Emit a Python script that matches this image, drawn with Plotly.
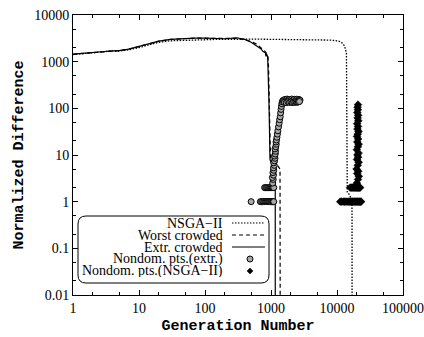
import plotly.graph_objects as go

# ---------------- data ----------------
nsga_gen = [1, 1.5, 2, 3, 4, 5, 7, 10, 15, 20, 30, 50, 70, 100, 150, 200, 300, 500, 700,
            1000, 1500, 2000, 3000, 5000, 7000, 8000, 10000, 11000, 12000, 12800, 13300,
            13700, 13900, 14000, 14100, 14200, 14300, 15000, 16000, 16800, 16900, 16950]
nsga_val = [1420, 1480, 1560, 1640, 1700, 1680, 1800, 2000, 2350, 2600, 2800, 2900, 2950,
            2950, 3000, 2980, 3020, 3050, 3030, 3080, 3060, 3050, 3020, 3000, 2950, 2900,
            2800, 2700, 2500, 2250, 1950, 1750, 1500, 300, 20, 3, 1.6, 1.5, 1.3, 1.1, 0.5, 0.0001]

worst_gen = [1, 1.5, 2, 3, 4, 5, 7, 10, 15, 20, 30, 50, 70, 100, 150, 200, 300, 400, 500,
             600, 700, 800, 870, 900, 920, 940, 960, 980, 1100, 1250, 1370, 1380, 1382]
worst_val = [1440, 1500, 1570, 1650, 1710, 1730, 1860, 2100, 2450, 2750, 3000, 3150, 3200,
             3180, 3150, 3100, 3150, 2950, 2700, 2400, 2000, 1700, 1450, 1300, 700, 150,
             30, 9, 7, 6, 5, 2, 0.0001]

extr_gen = [1, 1.5, 2, 3, 4, 5, 7, 10, 15, 20, 30, 50, 70, 100, 150, 200, 300, 400, 500,
            600, 700, 760, 820, 840, 850, 890, 910, 930, 950, 966, 1050, 1150, 1160, 1162]
extr_val = [1450, 1500, 1570, 1650, 1700, 1720, 1850, 2100, 2450, 2750, 3000, 3150, 3200,
            3180, 3150, 3100, 3250, 3000, 2600, 2200, 1900, 1650, 1550, 1300, 1500, 1280,
            600, 150, 30, 8, 6, 5, 3, 0.0001]

ext_pts_gen = [500, 690, 720, 750, 780, 810, 840, 870, 900, 930, 960, 990, 1020, 1050, 1080, 1100,
               800, 830, 860, 890, 920, 950, 980, 1010, 1040, 1070, 1100,
               1060, 1080, 1050, 1090, 1070, 1100, 1090, 1120, 1100, 1130, 1150, 1130, 1160,
               1170, 1150, 1180, 1200, 1190, 1210, 1230, 1250, 1270, 1300, 1330, 1350, 1380,
               1400, 1420, 1440, 1460, 1480, 1520,
               1560, 1620, 1680, 1750, 1820, 1900, 1980, 2060, 2150, 2250, 2350, 2450, 2550, 2650, 2750,
               1600, 1700, 1800, 1900, 2000, 2100, 2200, 2300, 2400, 2500, 2600, 2700]
ext_pts_val = [1, 1, 1, 1, 1, 1, 1, 1, 1, 1, 1, 1, 1, 1, 1, 1,
               2, 2, 2, 2, 2, 2, 2, 2, 2, 2, 2,
               2.5, 3, 3.3, 3.7, 4.2, 4.7, 5.3, 6, 6.8, 7.5, 8.5, 9.5, 10.5,
               12, 13.5, 15, 17, 19, 21, 24, 28, 33, 40, 48, 57, 66,
               80, 95, 110, 125, 138, 148,
               150, 155, 148, 158, 150, 155, 147, 158, 150, 156, 148, 157, 150, 155, 150,
               135, 132, 138, 134, 137, 133, 136, 134, 138, 135, 137, 140]

nsga_pts_gen = [11200, 11800, 12400, 13000, 13600, 14200, 14800, 15400, 16000, 16600, 17200,
                17800, 18400, 19000, 19600, 20200, 20800, 21400, 22000, 22600, 23200,
                15800, 16400, 17000, 17600, 18200, 18800, 19400, 20000, 20600, 21200, 21800, 22400,
                20000, 20800, 21400, 20200, 21000, 19800, 20600, 21300, 20100, 20900, 20400,
                21200, 20000, 20700, 21300, 20300, 20900, 20100, 20600, 21200, 20400, 20800,
                20200, 21000, 20500, 20900, 20300, 20700, 20500, 20800]
nsga_pts_val = [1, 1, 1, 1, 1, 1, 1, 1, 1, 1, 1, 1, 1, 1, 1, 1, 1, 1, 1, 1, 1,
                2, 2, 2, 2, 2, 2, 2, 2, 2, 2, 2, 2,
                2.5, 3, 3.5, 4, 4.5, 5, 6, 7, 8, 9, 10, 11, 13, 15, 17, 19, 22, 25, 28,
                32, 36, 41, 47, 54, 62, 71, 81, 93, 106, 120, 150]

x_ticks = [1, 10, 100, 1000, 10000, 100000]
x_labels = ["1", "10", "100", "1000", "10000", "100000"]
y_ticks = [0.01, 0.1, 1, 10, 100, 1000, 10000]
y_labels = ["0.01", "0.1", "1", "10", "100", "1000", "10000"]

legend_names = ["NSGA\u2212II", "Worst crowded", "Extr. crowded",
                "Nondom. pts.(extr.)", "Nondom. pts.(NSGA\u2212II)"]

# ---------------- figure ----------------
W, H = 424, 337
L, R, T, B = 73, 21, 15, 42
PW, PH = W - L - R, H - T - B

fig = go.Figure()
fig.add_trace(go.Scatter(x=nsga_gen, y=nsga_val, mode="lines",
                         line=dict(color="black", width=1.3, dash="1.5px,1.5px")))
fig.add_trace(go.Scatter(x=worst_gen, y=worst_val, mode="lines",
                         line=dict(color="black", width=1.2, dash="4px,3px")))
fig.add_trace(go.Scatter(x=extr_gen, y=extr_val, mode="lines",
                         line=dict(color="black", width=1.2)))
fig.add_trace(go.Scatter(x=ext_pts_gen, y=ext_pts_val, mode="markers",
                         marker=dict(symbol="circle", size=6, color="#a8a8a8",
                                     line=dict(color="black", width=1))))
fig.add_trace(go.Scatter(x=nsga_pts_gen, y=nsga_pts_val, mode="markers",
                         marker=dict(symbol="diamond", size=6, color="black",
                                     line=dict(color="black", width=0.5))))

def px2paper(px, py):
    return (px - L) / PW, (H - B - py) / PH

shapes = []
annotations = []

# legend box with rounded corners
bx0, by0, bx1, by1, r = 78, 216, 269, 283, 8
rx, ry = r / PW, r / PH
x0, y1p = px2paper(bx0, by0)
x1, y0p = px2paper(bx1, by1)
path = (f"M {x0+rx},{y1p} L {x1-rx},{y1p} Q {x1},{y1p} {x1},{y1p-ry} "
        f"L {x1},{y0p+ry} Q {x1},{y0p} {x1-rx},{y0p} L {x0+rx},{y0p} "
        f"Q {x0},{y0p} {x0},{y0p+ry} L {x0},{y1p-ry} Q {x0},{y1p} {x0+rx},{y1p} Z")
shapes.append(dict(type="path", xref="paper", yref="paper", path=path,
                   line=dict(color="black", width=1), fillcolor="white", layer="above"))

rows = [223, 235, 247, 259, 271]
text_right = 224
sx0, sx1, smid = 232, 265, 250
dashes = ["1.5px,1.5px", "4px,3px", "solid"]
for i, (name, ry_) in enumerate(zip(legend_names, rows)):
    tx, ty = px2paper(text_right, ry_)
    annotations.append(dict(x=tx, y=ty, xref="paper", yref="paper", text=name,
                            showarrow=False, xanchor="right", yanchor="middle",
                            borderpad=0, height=12,
                            font=dict(family="Liberation Serif", size=14, color="black")))
    if i < 3:
        a, yy = px2paper(sx0, ry_)
        b, _ = px2paper(sx1, ry_)
        shapes.append(dict(type="line", xref="paper", yref="paper", x0=a, x1=b, y0=yy, y1=yy,
                           line=dict(color="black", width=1, dash=dashes[i]), layer="above"))
mx, my4 = px2paper(smid, rows[3])
shapes.append(dict(type="circle", xref="paper", yref="paper", xsizemode="pixel", ysizemode="pixel",
                   xanchor=mx, yanchor=my4, x0=-3, x1=3, y0=-3, y1=3,
                   fillcolor="#a8a8a8", line=dict(color="black", width=1), layer="above"))
_, my5 = px2paper(smid, rows[4])
shapes.append(dict(type="path", xref="paper", yref="paper", xsizemode="pixel", ysizemode="pixel",
                   xanchor=mx, yanchor=my5, path="M 0,3 L 3,0 L 0,-3 L -3,0 Z",
                   fillcolor="black", line=dict(color="black", width=0.5), layer="above"))

axis_common = dict(showline=True, linecolor="black", linewidth=1, mirror="ticks",
                   ticks="inside", ticklen=5, tickwidth=1, tickcolor="black",
                   showgrid=False, zeroline=False, automargin=False,
                   tickfont=dict(family="Liberation Serif", size=14, color="black"),
                   minor=dict(ticks="inside", ticklen=3, tickwidth=1, tickcolor="black",
                              dtick="D2", showgrid=False))

fig.update_layout(
    template="none",
    width=W, height=H, margin=dict(l=L, r=R, t=T, b=B),
    paper_bgcolor="white", plot_bgcolor="white", showlegend=False,
    xaxis=dict(type="log", range=[0, 5], tickmode="array", tickvals=x_ticks, ticktext=x_labels,
               ticklabelstandoff=0,
               title=dict(text="Generation Number", standoff=4,
                          font=dict(family="Liberation Mono", size=15, color="black", weight="bold")),
               **axis_common),
    yaxis=dict(type="log", range=[-2, 4], tickmode="array", tickvals=y_ticks, ticktext=y_labels,
               title=dict(text="Normalized Difference", standoff=6,
                          font=dict(family="Liberation Mono", size=15, color="black", weight="bold")),
               **axis_common),
    shapes=shapes, annotations=annotations,
)

fig.write_html("out.html", config={"displayModeBar": False},
               post_script="document.body.style.margin='0';document.body.style.padding='0';")
